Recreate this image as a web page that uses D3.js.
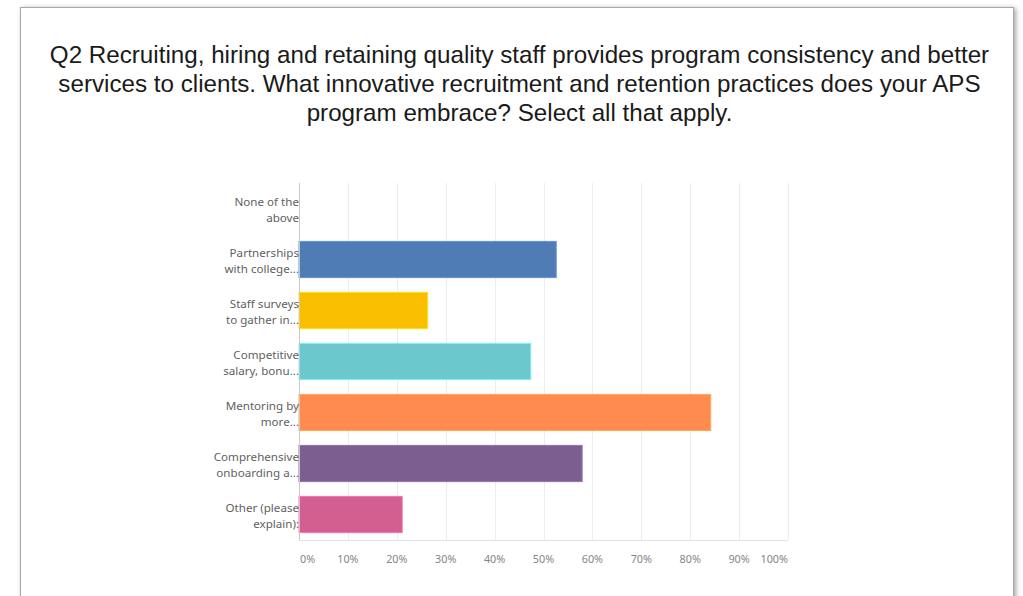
<!DOCTYPE html>
<html>
<head>
<meta charset="utf-8">
<script src="https://cdn.jsdelivr.net/npm/d3@7"></script>
<style>
  html, body { margin: 0; padding: 0; background: #fff; overflow: hidden; }
  svg { display: block; }
</style>
</head>
<body>
<svg id="chart"></svg>
<script>
// Answer choices, top to bottom (two wrapped lines each)
const categories = [
  ["None of the", "above"],
  ["Partnerships", "with college..."],
  ["Staff surveys", "to gather in..."],
  ["Competitive", "salary, bonu..."],
  ["Mentoring by", "more..."],
  ["Comprehensive", "onboarding a..."],
  ["Other (please", "explain):"]
];
// Percent of respondents
const values = [0, 52.6, 26.3, 47.4, 84.2, 57.9, 21.1];
const barColors = ["#507cb6", "#507cb6", "#f9be00", "#6bc8cd", "#ff8b4f", "#7d5e90", "#d25f90"];
const tickValues = [0, 10, 20, 30, 40, 50, 60, 70, 80, 90, 100];
const titleLines = [
  "Q2 Recruiting, hiring and retaining quality staff provides program consistency and better",
  "services to clients. What innovative recruitment and retention practices does your APS",
  "program embrace? Select all that apply."
];

const dims = {
  width: 1023,
  height: 596,
  left: 299,
  right: 788,
  top: 183,
  bottom: 540
};

const svg = d3.select("#chart")
    .attr("width", dims.width)
    .attr("height", dims.height);

// Card frame with a soft shadow
const defs = svg.append("defs");
const shadow = defs.append("filter").attr("id", "shadow")
    .attr("x", "-5%").attr("y", "-5%").attr("width", "110%").attr("height", "110%");
shadow.append("feDropShadow")
    .attr("dx", 2).attr("dy", 1).attr("stdDeviation", 2.5)
    .attr("flood-color", "#000").attr("flood-opacity", 0.35);

svg.append("rect")
    .attr("x", 20.5).attr("y", 7.5)
    .attr("width", 993).attr("height", 620)
    .attr("fill", "#fff")
    .attr("stroke", "#a8a8a8")
    .attr("filter", "url(#shadow)");

// Title
svg.append("g").selectAll("text")
  .data(titleLines)
  .join("text")
    .attr("x", 519.5)
    .attr("y", (d, i) => 63 + i * 29)
    .attr("text-anchor", "middle")
    .style("font-family", "'Liberation Sans', Arial, sans-serif")
    .style("font-size", "24.2px")
    .style("fill", "#1a1a1a")
    .text(d => d);

const x = d3.scaleLinear()
    .domain([0, 100])
    .range([dims.left, dims.right]);

const y = d3.scaleBand()
    .domain(d3.range(categories.length))
    .range([dims.top, dims.bottom])
    .paddingInner(0.29)
    .paddingOuter(0.145);

// Gridlines
svg.append("g")
  .selectAll("line")
  .data(tickValues.slice(1))
  .join("line")
    .attr("x1", d => Math.round(x(d)) + 0.5)
    .attr("x2", d => Math.round(x(d)) + 0.5)
    .attr("y1", dims.top)
    .attr("y2", dims.bottom)
    .attr("stroke", "#ececec");

// Bottom baseline
svg.append("line")
    .attr("x1", dims.left).attr("x2", dims.right)
    .attr("y1", dims.bottom + 0.5).attr("y2", dims.bottom + 0.5)
    .attr("stroke", "#e2e2e2");

// Bars
svg.append("g")
  .selectAll("rect")
  .data(values)
  .join("rect")
    .attr("x", x(0))
    .attr("y", (d, i) => y(i))
    .attr("width", d => x(d) - x(0))
    .attr("height", y.bandwidth())
    .attr("fill", (d, i) => barColors[i])
    .attr("stroke", (d, i) => d3.color(barColors[i]).brighter(0.5))
    .attr("stroke-width", 1)
    .style("display", d => d > 0 ? null : "none");

// Left axis line
svg.append("line")
    .attr("x1", dims.left + 0.5).attr("x2", dims.left + 0.5)
    .attr("y1", dims.top).attr("y2", dims.bottom)
    .attr("stroke", "#c8c8c8");

// Category labels
const labels = svg.append("g")
  .selectAll("text")
  .data(categories)
  .join("text")
    .attr("text-anchor", "end")
    .style("font-family", "'Noto Sans', 'Open Sans', sans-serif")
    .style("font-size", "11.6px")
    .style("fill", "#5f5f5f");

labels.selectAll("tspan")
  .data((d, i) => d.map(t => ({ t, i })))
  .join("tspan")
    .attr("x", dims.left)
    .attr("y", (d, j) => y(d.i) + y.bandwidth() / 2 - 3 + j * 16)
    .text(d => d.t);

// Tick labels
svg.append("g")
  .selectAll("text")
  .data(tickValues)
  .join("text")
    .attr("x", d => d === 0 ? x(d) + 1 : x(d))
    .attr("y", 563)
    .attr("text-anchor", d => d === 0 ? "start" : d === 100 ? "end" : "middle")
    .style("font-family", "'Noto Sans', 'Open Sans', sans-serif")
    .style("font-size", "10.8px")
    .style("fill", "#858585")
    .text(d => d + "%");
</script>
</body>
</html>
